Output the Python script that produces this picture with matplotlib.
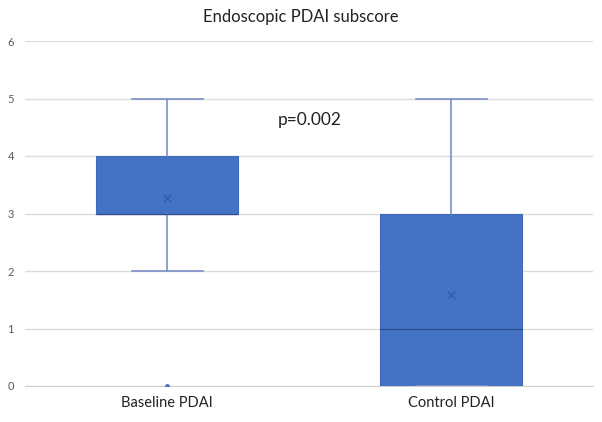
import matplotlib.pyplot as plt

# data
categories = ['Baseline PDAI', 'Control PDAI']
q1 = [3, 0]
q3 = [4, 3]
medians = [3, 1]
means = [3.27, 1.58]
whis_lo = [2, 0]
whis_hi = [5, 5]
fliers = [[0], []]
p_text = 'p=0.002'

plt.rcParams['font.family'] = ['Lato', 'DejaVu Sans']

fig = plt.figure(figsize=(6.02, 4.22), dpi=100)
ax = fig.add_axes([25 / 602, 1 - 386 / 422, 568 / 602, 345 / 422])

stats = []
for i, name in enumerate(categories):
    stats.append(dict(label=name, q1=q1[i], q3=q3[i], med=medians[i], mean=means[i],
                      whislo=whis_lo[i], whishi=whis_hi[i], fliers=fliers[i]))

box_color = '#4472C4'
ax.bxp(stats, positions=range(len(categories)), widths=0.5, patch_artist=True,
       showmeans=True, showcaps=True,
       boxprops=dict(facecolor=box_color, edgecolor='#3F68B5', linewidth=0.8),
       medianprops=dict(color='#2D4F8E', linewidth=0.9),
       whiskerprops=dict(color='#7A8FC9', linewidth=1.2),
       capprops=dict(color='#7A8FC9', linewidth=1.2),
       meanprops=dict(marker='x', markeredgecolor='#3559A0', markersize=6, markeredgewidth=0.9),
       flierprops=dict(marker='o', markerfacecolor='#4472C4', markeredgecolor='#4472C4', markersize=2.5),
       zorder=3)

ax.set_xlim(-0.5, 1.5)
ax.set_ylim(0, 6)
ax.set_yticks(range(0, 7))
ax.grid(axis='y', color='#DCDCDC', linewidth=1.0, zorder=0)
ax.set_axisbelow(True)
for s in ['top', 'right', 'left']:
    ax.spines[s].set_visible(False)
ax.spines['bottom'].set_color('#D0D0D0')
ax.tick_params(axis='y', length=0, labelsize=8, labelcolor='#595959', pad=8)
ax.tick_params(axis='x', length=0, labelsize=10.5, labelcolor='#222222', pad=7)
ax.set_xticks(range(len(categories)))
ax.set_xticklabels(categories)

ax.text(0.503, 4.63, p_text, ha='center', va='center', fontsize=12.5, color='#222222')
fig.text(0.5, 1 - 17 / 422, 'Endoscopic PDAI subscore', ha='center', va='center',
         fontsize=12, color='#222222')

fig.savefig('out.png', dpi=100)
